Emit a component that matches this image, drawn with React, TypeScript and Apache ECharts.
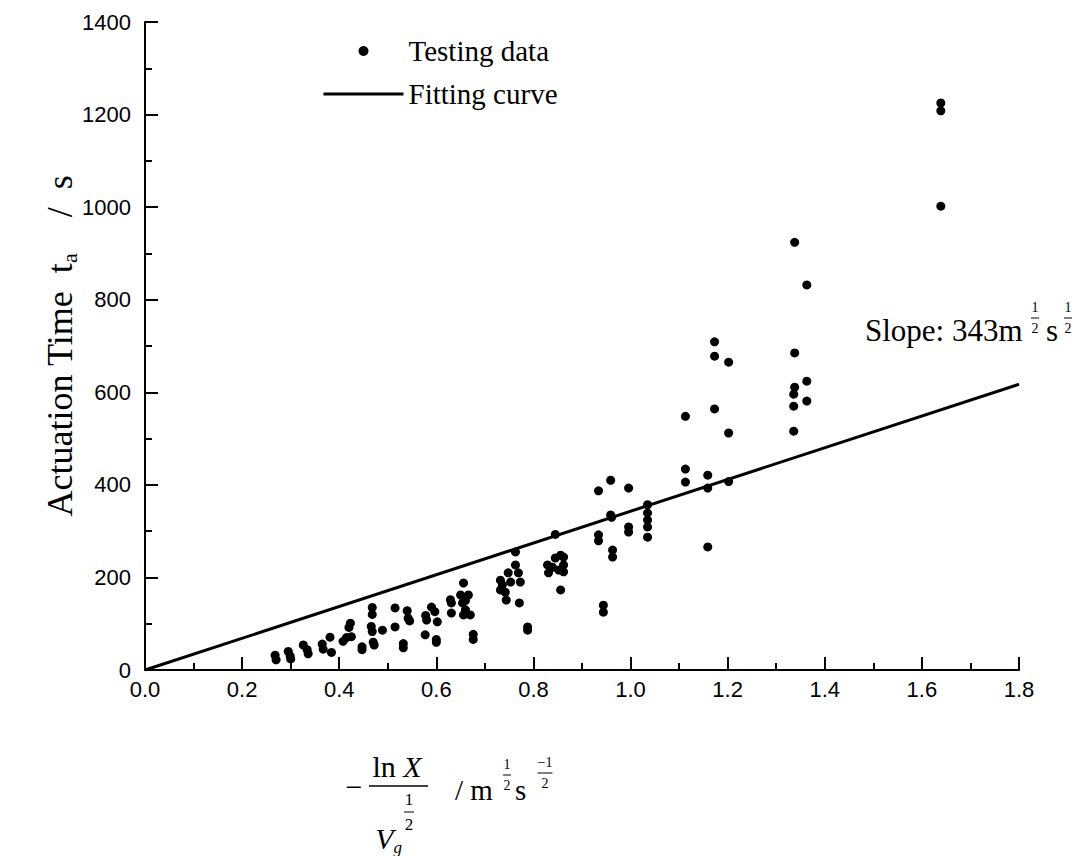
import React, { useEffect, useRef } from "react";
import * as echarts from "echarts";

// Testing data: [-lnX / Vg^(1/2), actuation time (s)]
const testingData: [number, number][] = [
  [0.268, 32], [0.27, 22], [0.295, 40], [0.299, 30], [0.3, 24],
  [0.326, 54], [0.334, 44], [0.336, 35],
  [0.365, 56], [0.367, 45], [0.381, 71], [0.384, 38],
  [0.408, 62], [0.415, 70], [0.42, 92], [0.423, 101], [0.425, 72],
  [0.447, 50], [0.447, 44],
  [0.468, 135], [0.468, 120], [0.466, 94], [0.468, 83], [0.47, 60], [0.472, 54],
  [0.489, 86], [0.515, 134], [0.515, 93], [0.532, 57], [0.532, 48],
  [0.54, 128], [0.542, 112], [0.545, 106],
  [0.578, 118], [0.58, 108], [0.577, 76],
  [0.59, 136], [0.597, 126], [0.602, 104], [0.6, 66], [0.6, 60],
  [0.629, 152], [0.631, 145], [0.631, 123],
  [0.65, 162], [0.656, 188], [0.654, 145], [0.666, 162], [0.66, 130], [0.656, 119], [0.67, 119], [0.66, 150],
  [0.676, 77], [0.676, 66],
  [0.732, 194], [0.736, 184], [0.732, 173], [0.742, 168], [0.748, 210], [0.753, 190],
  [0.763, 227], [0.763, 255], [0.769, 210], [0.773, 190], [0.744, 151], [0.771, 145],
  [0.788, 93], [0.788, 86],
  [0.829, 227], [0.831, 210], [0.839, 222], [0.845, 242], [0.856, 248], [0.862, 244],
  [0.862, 227], [0.862, 212], [0.856, 173], [0.852, 216], [0.845, 293],
  [0.934, 387], [0.934, 292], [0.934, 279], [0.944, 140], [0.944, 125],
  [0.959, 410], [0.959, 335], [0.961, 330], [0.963, 259], [0.963, 244],
  [0.996, 393], [0.996, 309], [0.996, 298],
  [1.035, 357], [1.035, 339], [1.035, 324], [1.035, 309], [1.035, 287],
  [1.113, 548], [1.113, 434], [1.113, 406],
  [1.159, 421], [1.159, 393], [1.159, 266],
  [1.173, 709], [1.173, 678], [1.173, 564],
  [1.202, 665], [1.202, 512], [1.202, 407],
  [1.338, 924], [1.338, 685], [1.338, 611], [1.336, 596], [1.336, 570], [1.336, 516],
  [1.363, 832], [1.363, 624], [1.363, 581],
  [1.639, 1225], [1.639, 1208], [1.639, 1002],
];

// Fitting line endpoints (slope 343)
const fitX = [0, 1.8];
const fitY = [0, 617.4];

const xRange = [0, 1.8];
const xStep = 0.2;
const yRange = [0, 1400];
const yStep = 200;

const seriesNames = ["Testing data", "Fitting curve"];
const slopeLabel = "Slope: 343m";

const SERIF = "'Liberation Serif', 'Times New Roman', serif";
const SANS = "'Liberation Sans', Arial, sans-serif";

function frac(x: number, y: number, top: string, bottom: string, size: number, w: number) {
  return [
    { type: "text", x, y: y - size * 0.72, style: { text: top, font: `${size}px ${SERIF}`, fill: "#000", align: "center", verticalAlign: "middle" } },
    { type: "line", shape: { x1: x - w / 2, y1: y, x2: x + w / 2, y2: y }, style: { stroke: "#000", lineWidth: 1 } },
    { type: "text", x, y: y + size * 0.72, style: { text: bottom, font: `${size}px ${SERIF}`, fill: "#000", align: "center", verticalAlign: "middle" } },
  ];
}

export default function App() {
  const ref = useRef<HTMLDivElement>(null);
  useEffect(() => {
    document.body.style.margin = "0";
    const chart = echarts.init(ref.current!, null, { renderer: "svg" });
    const fitData = fitX.map((x, i) => [x, fitY[i]]);
    chart.setOption({
      animation: false,
      backgroundColor: "#fff",
      grid: { left: 145, right: 63, top: 22, bottom: 186, containLabel: false },
      legend: {
        left: 322,
        top: 33,
        padding: 0,
        orient: "vertical",
        itemWidth: 80,
        itemHeight: 10,
        itemGap: 7,
        data: [
          { name: seriesNames[0], icon: "circle" },
          { name: seriesNames[1], itemStyle: { opacity: 0 }, lineStyle: { width: 3, color: "#000" } },
        ],
        textStyle: { fontFamily: SERIF, fontSize: 29, color: "#000", lineHeight: 36 },
      },
      xAxis: {
        type: "value",
        min: xRange[0],
        max: xRange[1],
        interval: xStep,
        axisLine: { show: true, onZero: false, lineStyle: { color: "#000", width: 2 } },
        axisTick: { show: true, inside: true, length: 13, lineStyle: { color: "#000", width: 2 } },
        minorTick: { show: true, splitNumber: 2, length: 7, lineStyle: { color: "#000", width: 2 } },
        splitLine: { show: false },
        axisLabel: {
          color: "#000",
          fontFamily: SANS,
          fontSize: 22,
          margin: 8,
          formatter: (v: number) => v.toFixed(1),
        },
      },
      yAxis: {
        type: "value",
        min: yRange[0],
        max: yRange[1],
        interval: yStep,
        name: "{n|Actuation Time  t}{sub|a}{n|    /  s}",
        nameLocation: "middle",
        nameGap: 65,
        nameRotate: 90,
        nameMoveOverlap: false,
        nameTextStyle: {
          rich: {
            n: { fontFamily: SERIF, fontSize: 36, color: "#000", lineHeight: 40 },
            sub: { fontFamily: SERIF, fontSize: 22, color: "#000", verticalAlign: "bottom", lineHeight: 40 },
          },
        },
        axisLine: { show: true, onZero: false, lineStyle: { color: "#000", width: 2 } },
        axisTick: { show: true, inside: true, length: 13, lineStyle: { color: "#000", width: 2 } },
        minorTick: { show: true, splitNumber: 2, length: 7, lineStyle: { color: "#000", width: 2 } },
        splitLine: { show: false },
        axisLabel: { color: "#000", fontFamily: SANS, fontSize: 22, margin: 14, formatter: (v: number) => String(v) },
      },
      series: [
        {
          name: seriesNames[0],
          type: "scatter",
          data: testingData,
          symbol: "circle",
          symbolSize: 9,
          itemStyle: { color: "#000", opacity: 1 },
          z: 3,
        },
        {
          name: seriesNames[1],
          type: "line",
          data: fitData,
          symbol: "none",
          lineStyle: { color: "#000", width: 3 },
          itemStyle: { color: "#000" },
          z: 2,
        },
      ],
      graphic: [
        // Slope annotation
        { type: "text", x: 865, y: 330, style: { text: slopeLabel, font: `31px ${SERIF}`, fill: "#000", verticalAlign: "middle" } },
        ...frac(1035, 318, "1", "2", 14, 8),
        { type: "text", x: 1046, y: 330, style: { text: "s", font: `31px ${SERIF}`, fill: "#000", verticalAlign: "middle" } },
        ...frac(1068, 318, "1", "2", 14, 8),
        // X axis title formula
        { type: "text", x: 354, y: 786, style: { text: "−", font: `30px ${SERIF}`, fill: "#000", align: "center", verticalAlign: "middle" } },
        {
          type: "text", x: 397, y: 766,
          style: {
            text: "{r|ln }{i|X}", align: "center", verticalAlign: "middle",
            rich: {
              r: { fontFamily: SERIF, fontSize: 30, fill: "#000" },
              i: { fontFamily: SERIF, fontSize: 30, fontStyle: "italic", fill: "#000" },
            },
          },
        },
        { type: "line", shape: { x1: 369, y1: 786, x2: 428, y2: 786 }, style: { stroke: "#000", lineWidth: 1.5 } },
        {
          type: "text", x: 402, y: 838,
          style: {
            text: "{v|V}{g|g}", align: "right", verticalAlign: "middle",
            rich: {
              v: { fontFamily: SERIF, fontSize: 30, fontStyle: "italic", fill: "#000", lineHeight: 36 },
              g: { fontFamily: SERIF, fontSize: 17, fontStyle: "italic", fill: "#000", verticalAlign: "bottom", lineHeight: 36 },
            },
          },
        },
        ...frac(409, 812, "1", "2", 17, 10),
        { type: "text", x: 455, y: 790, style: { text: "/ m", font: `29px ${SERIF}`, fill: "#000", verticalAlign: "middle" } },
        ...frac(507, 775, "1", "2", 14, 8),
        { type: "text", x: 515, y: 790, style: { text: "s", font: `29px ${SERIF}`, fill: "#000", verticalAlign: "middle" } },
        ...frac(545, 773, "−1", "2", 14, 15),
      ],
    });
    return () => chart.dispose();
  }, []);
  return <div ref={ref} style={{ width: 1082, height: 856 }} />;
}
